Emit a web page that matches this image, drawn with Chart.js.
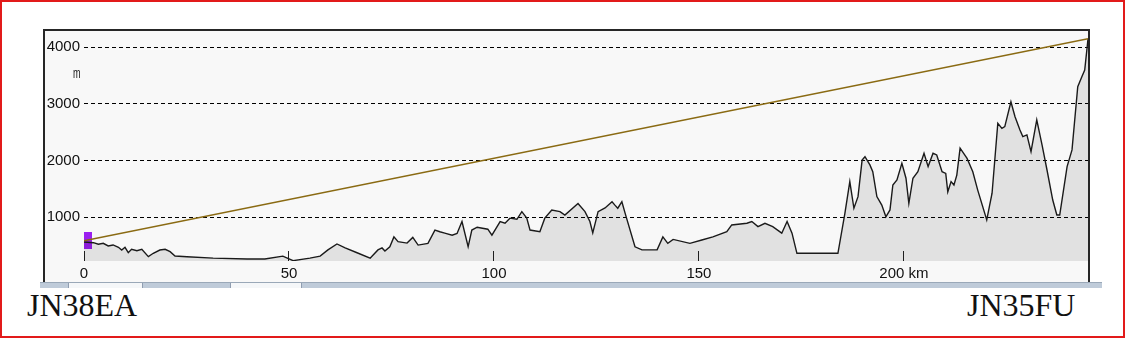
<!DOCTYPE html>
<html>
<head>
<meta charset="utf-8">
<script src="https://cdn.jsdelivr.net/npm/chart.js@4.4.1/dist/chart.umd.min.js"></script>
<style>
  html, body { margin: 0; padding: 0; background: #fff; }
  #page { position: relative; width: 1125px; height: 338px; overflow: hidden; background: #fff; }
  #redbox { position: absolute; left: 0; top: 0; width: 1125px; height: 338px; box-sizing: border-box; border: 2px solid #e21a1a; pointer-events: none; }
  #frame { position: absolute; left: 43px; top: 29px; width: 1043px; height: 251px; background: #f8f8f8; border: 2px solid #262626; border-bottom: none; }
  #wrap { position: absolute; left: 0; top: 0; width: 1043px; height: 251px; }
  #unit { position: absolute; left: 73px; top: 65px; font: 14px 'Liberation Sans', sans-serif; color: #111; transform: scaleX(0.65); transform-origin: left top; }
  #tabs { position: absolute; left: 40px; top: 282px; width: 1062px; height: 5px; background: #bfcbd9; border-top: 1px solid #9aa8b8; }
  .tab { position: absolute; top: 0; height: 5px; background: #f5f7f9; border-left: 1px solid #8f9db0; border-right: 1px solid #8f9db0; }
  .loc { position: absolute; font: 32px 'Liberation Serif', 'Times New Roman', serif; line-height: 32px; color: #111; }
</style>
</head>
<body>
<div id="page">
  <div id="frame"><div id="wrap"><canvas id="profil" width="1043" height="251"></canvas></div></div>
  <div id="unit">m</div>
  <div id="tabs">
    <div class="tab" style="left:28px;width:73px"></div>
    <div class="tab" style="left:190px;width:70px"></div>
  </div>
  <div class="loc" style="left:27px;top:289px">JN38EA</div>
  <div class="loc" style="left:967px;top:289px">JN35FU</div>
  <div id="redbox"></div>
</div>
<script>
  // Höhenprofil (km / m)
  const distKm = [
    0, 2.3, 3.5, 4.7, 5.9, 7.1, 8.4, 9.2, 10.0, 10.8,
    11.6, 12.9, 14.1, 15.7, 16.9, 18.5, 19.8, 21.0, 22.2,
    25.1, 31.5, 39.8, 44.1, 48.5, 51.0, 55.1,
    57.6, 59.5, 61.7, 63.7, 66.6, 69.8, 71.7, 72.7, 73.4, 74.6,
    75.6, 76.6, 78.8, 80.2, 81.5, 83.9, 85.6, 86.8, 88.0, 89.8,
    91.0, 92.2, 93.7, 94.6, 95.9, 98.5, 99.5, 101.5, 102.7, 103.9,
    105.6, 106.8, 108.0, 108.8, 111.2, 112.4, 114.1, 116.1, 117.3, 120.5,
    122.2, 123.4, 124.1, 125.4, 127.1, 128.8, 129.5, 130.2, 131.2, 132.0,
    134.4, 136.1, 139.8, 141.2, 142.4, 143.7, 147.8, 150.7, 153.4, 156.8,
    158.0, 161.7, 162.9, 164.4, 166.1, 168.0, 170.2, 171.5, 172.7, 173.9,
    183.9, 185.6, 186.8, 187.8, 188.8, 189.8, 190.5, 191.7, 192.4, 193.4,
    194.6, 195.6, 196.6, 197.3, 198.3, 199.5, 200.5, 201.2, 202.2, 203.4,
    204.9, 205.9, 207.1, 208.0, 209.3, 210.2, 210.7, 211.5, 212.2, 212.9,
    213.7, 215.4, 216.8, 218.0, 220.2, 221.5, 222.9, 223.9, 224.6, 226.1,
    227.1, 228.3, 229.0, 230.0, 231.0, 232.4, 233.7, 234.9, 236.3, 237.3,
    238.0, 239.8, 241.0, 242.4, 243.4, 244.1, 244.9
  ];
  const elevM = [
    560, 547, 519, 537, 489, 507, 466, 418, 466, 371,
    431, 406, 431, 300, 360, 418, 431, 388, 312,
    300, 275, 260, 260, 310, 230, 275,
    310, 420, 525, 455, 370, 275, 420, 455, 400, 475,
    650, 565, 540, 640, 505, 535, 770, 740, 715, 680,
    710, 920, 475, 770, 820, 785, 680, 920, 890, 980,
    960, 1095, 980, 770, 740, 980, 1125, 1095, 1035, 1240,
    1095, 920, 720, 1095, 1160, 1270, 1210, 1155, 1270, 1065,
    475, 420, 420, 650, 535, 605, 535, 595, 650, 740,
    860, 890, 920, 830, 890, 830, 715, 920, 715, 360,
    360, 1065, 1625, 1155, 1360, 2005, 2065, 1920, 1800, 1360,
    1210, 1005, 1125, 1565, 1655, 1950, 1685, 1240, 1685, 1800,
    2125, 1890, 2125, 2095, 1800, 1770, 1445, 1625, 1565, 1740,
    2215, 2035, 1800, 1475, 950, 1420, 2655, 2565, 2595, 3035,
    2770, 2535, 2420, 2450, 2155, 2715, 2270, 1830, 1300, 1035,
    1035, 1890, 2185, 3300, 3475, 3595, 4140
  ];

  // Sichtlinie zwischen den beiden Standorten
  const losKm = [0, 244.9];
  const losM = [580, 4148];

  // Standortmarke
  const markerKm = [0.98];
  const markerM = [586];

  const xTicks = [0, 50, 100, 150, 200];
  const xTickLabels = ['0', '50', '100', '150', '200 km'];
  const yTicks = [1000, 2000, 3000, 4000];

  const tickFont = { family: 'Liberation Sans', size: 15 };

  function markerImg() {
    const c = document.createElement('canvas');
    c.width = 8; c.height = 17;
    const g = c.getContext('2d');
    g.fillStyle = '#9b1ff0';
    g.fillRect(0, 0, 8, 17);
    return c;
  }

  const pts = (xs, ys) => xs.map((x, i) => ({ x, y: ys[i] }));

  new Chart(document.getElementById('profil'), {
    type: 'line',
    data: {
      datasets: [
        {
          data: pts(losKm, losM),
          borderColor: '#8a6a12',
          borderWidth: 1.5,
          pointRadius: 0,
          fill: false,
          order: 0
        },
        {
          data: pts(distKm, elevM),
          borderColor: '#1a1a1a',
          borderWidth: 1.4,
          backgroundColor: 'rgba(0,0,0,0.09)',
          fill: 'start',
          pointRadius: 0,
          tension: 0,
          order: 1
        },
        {
          data: pts(markerKm, markerM),
          showLine: false,
          pointStyle: markerImg(),
          pointRadius: 5,
          order: 2
        }
      ]
    },
    options: {
      responsive: false,
      animation: false,
      devicePixelRatio: 1,
      layout: { padding: 0, autoPadding: false },
      plugins: { legend: { display: false }, tooltip: { enabled: false } },
      scales: {
        x: {
          type: 'linear',
          min: 0,
          max: 244.9,
          afterBuildTicks: s => { s.ticks = xTicks.map(v => ({ value: v })); },
          afterFit: s => { s.height = 21; s.paddingLeft = 0; s.paddingRight = 0; },
          border: { display: false },
          grid: { drawOnChartArea: false, drawTicks: true, tickLength: -10, color: '#222', lineWidth: 1 },
          ticks: {
            font: tickFont,
            color: '#111',
            padding: 14,
            maxRotation: 0,
            autoSkip: false,
            callback: (v, i) => xTickLabels[i]
          }
        },
        y: {
          type: 'linear',
          min: 224,
          max: 4283,
          afterBuildTicks: s => { s.ticks = yTicks.map(v => ({ value: v })); },
          afterFit: s => { s.width = 39; s.paddingTop = 0; s.paddingBottom = 0; },
          border: { display: false, dash: [4, 3] },
          grid: { color: '#000', lineWidth: 1, drawTicks: false },
          ticks: { font: tickFont, color: '#111', padding: 4, callback: v => String(v) }
        }
      }
    }
  });
</script>
</body>
</html>
